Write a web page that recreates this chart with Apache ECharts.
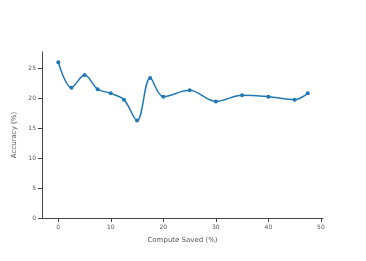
<!DOCTYPE html>
<html><head><meta charset="utf-8">
<script src="https://cdn.jsdelivr.net/npm/echarts@6/dist/echarts.min.js"></script>
<style>html,body{margin:0;padding:0;background:#fff}#c{width:366px;height:261px}</style>
</head><body><div id="c"></div>
<script>
const computeSaved = [0, 2.5, 5, 7.5, 10, 12.5, 15, 17.5, 20, 25, 30, 35, 40, 45, 47.5];
const accuracy = [26.0, 21.75, 23.85, 21.5, 20.8, 19.75, 16.25, 23.35, 20.25, 21.3, 19.45, 20.5, 20.25, 19.75, 20.8];
const xTicks = [0, 10, 20, 30, 40, 50];
const yTicks = [0, 5, 10, 15, 20, 25];

const font = '"DejaVu Sans", Verdana, sans-serif';
const chart = echarts.init(document.getElementById('c'), null, {renderer: 'canvas'});
chart.setOption({
  animation: false,
  grid: {left: 42, right: 43, top: 52, bottom: 43},
  xAxis: {
    type: 'value', min: -3.1, max: 50.4,
    name: 'Compute Saved (%)', nameLocation: 'middle', nameGap: 19,
    nameTextStyle: {fontFamily: font, fontSize: 7, color: '#555'},
    axisLine: {show: true, onZero: false, lineStyle: {color: '#444', width: 1}},
    axisTick: {show: true, length: 4, customValues: xTicks, lineStyle: {color: '#444'}},
    axisLabel: {customValues: xTicks, fontFamily: font, fontSize: 6, color: '#555', margin: 6},
    splitLine: {show: false}
  },
  yAxis: {
    type: 'value', min: 0, max: 27.7,
    name: 'Accuracy (%)', nameLocation: 'middle', nameGap: 21,
    nameTextStyle: {fontFamily: font, fontSize: 7, color: '#555'},
    axisLine: {show: true, onZero: false, lineStyle: {color: '#444', width: 1}},
    axisTick: {show: true, length: 4, customValues: yTicks, lineStyle: {color: '#444'}},
    axisLabel: {customValues: yTicks, fontFamily: font, fontSize: 6, color: '#555', margin: 6},
    splitLine: {show: false}
  },
  series: [{
    type: 'line',
    data: computeSaved.map((x, i) => [x, accuracy[i]]),
    smooth: 0.35,
    symbol: 'circle', symbolSize: 4,
    lineStyle: {color: '#1f77b4', width: 1.5},
    itemStyle: {color: '#1f77b4'}
  }]
});
</script></body></html>
